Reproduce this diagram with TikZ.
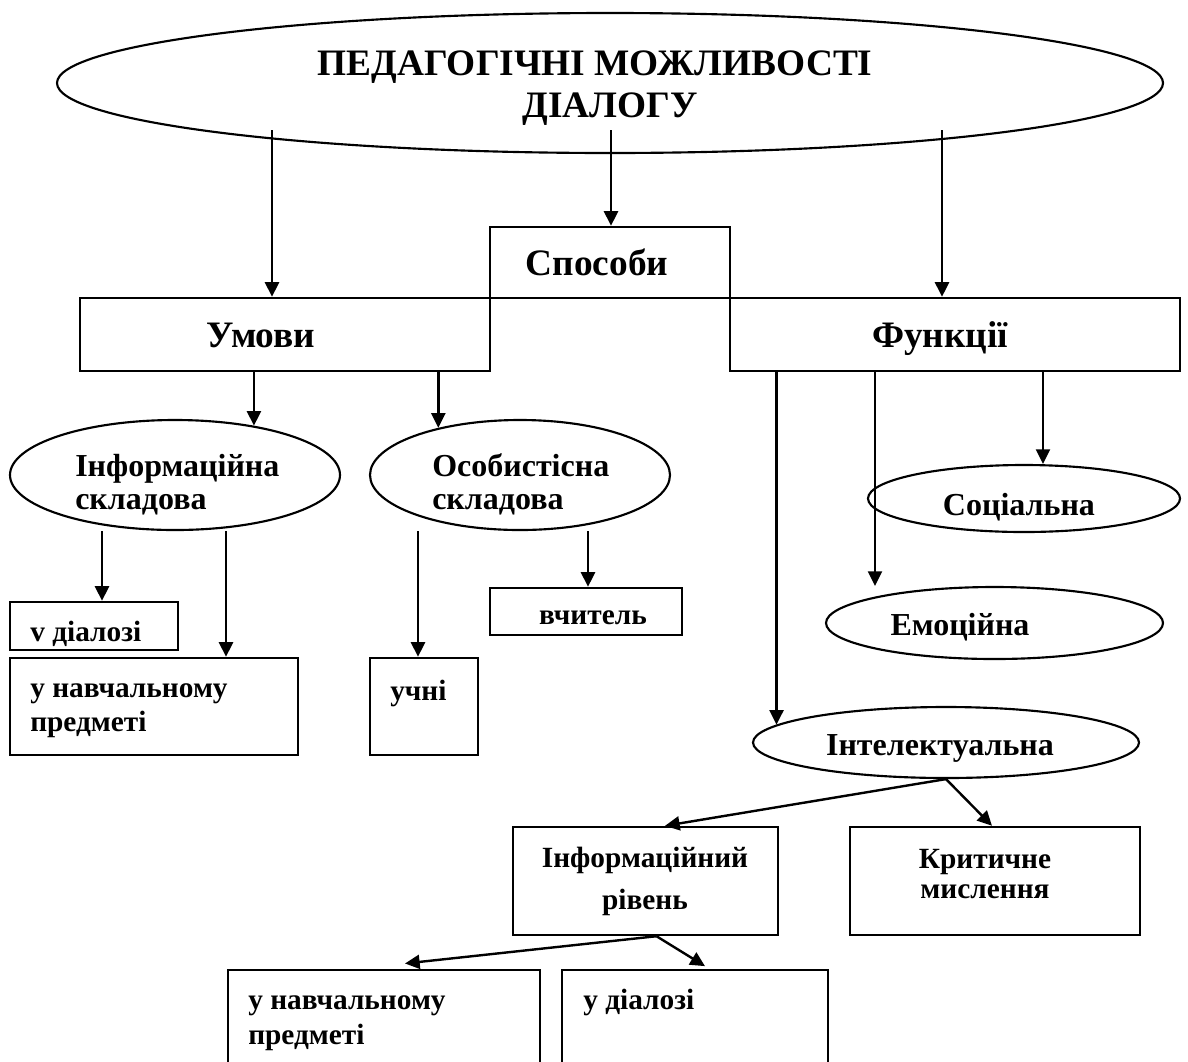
\documentclass[tikz,border=0pt]{standalone}
\usepackage{fontspec}
\setmainfont{Liberation Serif}
\usetikzlibrary{shapes.geometric,arrows.meta}
\begin{document}
\begin{tikzpicture}[x=0.75pt,y=-0.75pt,
  box/.style={draw,line width=1.8pt,rectangle,inner sep=0pt},
  oval/.style={draw,line width=1.6pt,ellipse,inner sep=0pt},
  arr/.style={line width=1.8pt,-{Triangle[length=11pt,width=10.5pt]}},
  big/.style={inner sep=0pt,font=\fontsize{28}{34}\selectfont\bfseries},
  mid/.style={inner sep=0pt,font=\fontsize{24}{29}\selectfont\bfseries},
  small/.style={inner sep=0pt,font=\fontsize{22}{26}\selectfont\bfseries}]
\useasboundingbox (0,0) rectangle (1188,1061);
% shapes
\node[oval,minimum width=829.5pt,minimum height=105pt] (top) at (610,83) {};
\node[box,minimum width=180pt,minimum height=53.25pt] (spo) at (610,262.5) {};
\node[box,minimum width=307.5pt,minimum height=54.75pt] (umo) at (285,334.5) {};
\node[box,minimum width=337.5pt,minimum height=54.75pt] (fun) at (955,334.5) {};
\node[oval,minimum width=247.5pt,minimum height=82.5pt] (inf) at (175,475) {};
\node[oval,minimum width=225pt,minimum height=82.5pt] (oso) at (520,475) {};
\node[box,minimum width=126pt,minimum height=36pt] (vdi) at (94,626) {};
\node[box,minimum width=216pt,minimum height=72.75pt] (un1) at (154,706.5) {};
\node[box,minimum width=81pt,minimum height=72.75pt] (uch) at (424,706.5) {};
\node[box,minimum width=144pt,minimum height=35.25pt] (vch) at (586,611.5) {};
\node[oval,minimum width=234pt,minimum height=50.25pt] (soc) at (1024,498.5) {};
\node[oval,minimum width=252.75pt,minimum height=54pt] (emo) at (994.5,623) {};
\node[oval,minimum width=289.5pt,minimum height=53.25pt] (int) at (946,742.5) {};
\node[box,minimum width=198.75pt,minimum height=81pt] (irv) at (645.5,881) {};
\node[box,minimum width=217.5pt,minimum height=81pt] (krm) at (995,881) {};
\node[box,minimum width=234pt,minimum height=75pt] (un2) at (384,1020) {};
\node[box,minimum width=199.5pt,minimum height=75pt] (udi) at (695,1020) {};
% texts
\node[big,anchor=base] (t1) at (595,75) {ПЕДАГОГІЧНІ МОЖЛИВОСТІ};
\node[big,anchor=base] (t2) at (610,117) {ДІАЛОГУ};
\node[big,anchor=base] (tspo) at (597,275) {Способи};
\node[big,anchor=base] (tumo) at (261,347) {Умови};
\node[big,anchor=base] (tfun) at (940,347) {Функції};
\node[mid,anchor=base west] (tinf1) at (75,476) {Інформаційна};
\node[mid,anchor=base west] (tinf2) at (75,509) {складова};
\node[mid,anchor=base west] (toso1) at (432,476) {Особистісна};
\node[mid,anchor=base west] (toso2) at (432,509) {складова};
\node[mid,anchor=base] (tsoc) at (1019,515) {Соціальна};
\node[mid,anchor=base] (temo) at (960,635) {Емоційна};
\node[mid,anchor=base] (tint) at (940,755) {Інтелектуальна};
\node[small,anchor=base west] (tvdi) at (30,641) {v діалозі};
\node[small,anchor=base] (tvch) at (593,624) {вчитель};
\node[small,anchor=base west] (tun1a) at (30,697) {у навчальному};
\node[small,anchor=base west] (tun1b) at (30,731) {предметі};
\node[small,anchor=base west] (tuch) at (390,700) {учні};
\node[small,anchor=base] (tirv1) at (645,867) {Інформаційний};
\node[small,anchor=base] (tirv2) at (645,909) {рівень};
\node[small,anchor=base] (tkrm1) at (985,868) {Критичне};
\node[small,anchor=base] (tkrm2) at (985,898) {мислення};
\node[small,anchor=base west] (tun2a) at (248,1009) {у навчальному};
\node[small,anchor=base west] (tun2b) at (248,1044) {предметі};
\node[small,anchor=base west] (tudi) at (583,1009) {у діалозі};
% connector start points inside the top ellipse
\coordinate (s1) at (272,130);
\coordinate (s2) at (611,130);
\coordinate (s3) at (942,130);
% connectors
\draw[arr] (s1) -- (umo.north -| s1);
\draw[arr] (s2) -- (spo.north -| s2);
\draw[arr] (s3) -- (fun.north -| s3);
\draw[arr] (umo.south -| inf.32) -- (inf.32);
\draw[arr] (umo.south -| oso.150) -- (oso.150);
\draw[arr] (inf.south -| 102,0) -- (vdi.north -| 102,0);
\draw[arr] (inf.south -| 226,0) -- (un1.north -| 226,0);
\draw[arr] (oso.south -| 418,0) -- (uch.north -| 418,0);
\draw[arr] (oso.south -| 588,0) -- (vch.north -| 588,0);
\draw[arr] (fun.south -| int.174.5) -- (int.174.5);
\draw[arr] (fun.south -| 875,0) -- (emo.north -| 875,0);
\draw[arr] (fun.south -| 1043,0) -- (soc.north -| 1043,0);
\draw[arr] (int.south) -- (irv.north -| 665,0);
\draw[arr] (int.south) -- (krm.north -| 992,0);
\draw[arr] ([xshift=8.25pt]irv.south) -- ([yshift=4pt]un2.north -| 405,0);
\draw[arr] ([xshift=8.25pt]irv.south) -- ([yshift=2pt]udi.north -| 705,0);
\end{tikzpicture}
\end{document}
